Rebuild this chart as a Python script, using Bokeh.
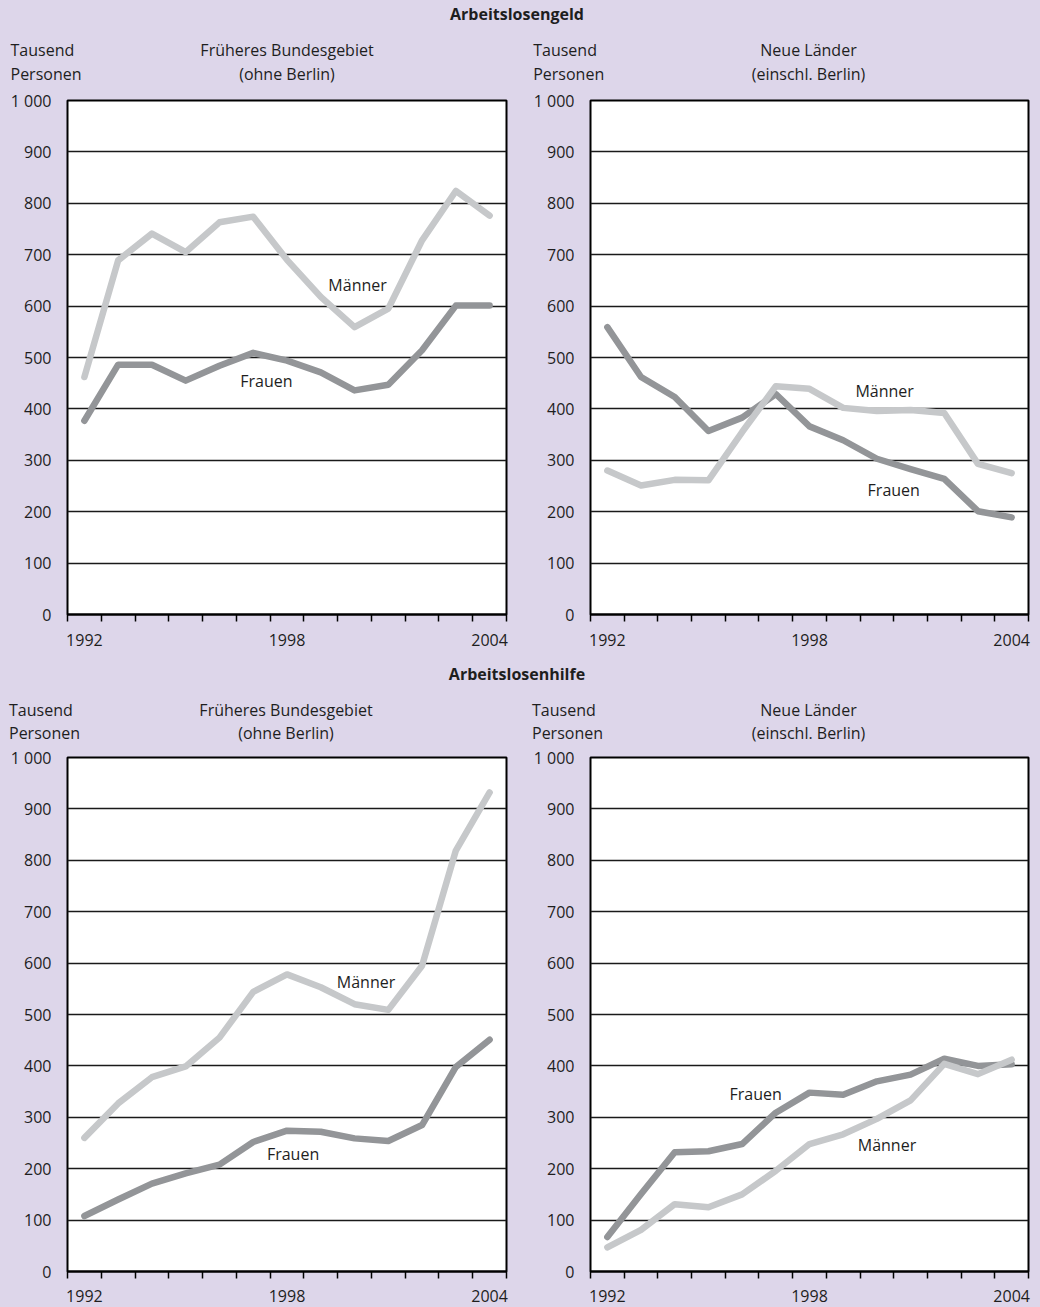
from bokeh.plotting import figure
from bokeh.layouts import column, row
from bokeh.models import FixedTicker, Label, Range1d
from bokeh.embed import file_html
from bokeh.resources import INLINE

# ---------------- data ----------------
years = list(range(1992, 2005))
x_labels = [1992, 1998, 2004]
y_ticks = [0, 100, 200, 300, 400, 500, 600, 700, 800, 900, 1000]
y_tick_labels = {1000: "1 000"}

alg_west_maenner = [462, 689, 741, 705, 763, 774, 690, 618, 559, 595, 728, 824, 776]
alg_west_frauen = [377, 486, 486, 455, 484, 509, 494, 471, 436, 447, 514, 601, 601]
alg_ost_maenner = [280, 251, 262, 261, 355, 444, 439, 402, 396, 398, 392, 293, 275]
alg_ost_frauen = [559, 462, 423, 357, 383, 429, 366, 339, 303, 283, 264, 201, 189]
alh_west_maenner = [260, 327, 378, 399, 455, 544, 578, 553, 520, 509, 595, 819, 932]
alh_west_frauen = [108, 140, 171, 191, 208, 252, 274, 272, 259, 254, 285, 398, 451]
alh_ost_maenner = [47, 81, 131, 125, 150, 196, 248, 267, 297, 333, 404, 384, 412]
alh_ost_frauen = [67, 151, 232, 234, 248, 309, 348, 344, 370, 383, 414, 400, 403]

section_titles = ["Arbeitslosengeld", "Arbeitslosenhilfe"]
unit_lines = ["Tausend", "Personen"]
region_west = ["Früheres Bundesgebiet", "(ohne Berlin)"]
region_ost = ["Neue Länder", "(einschl. Berlin)"]

# ---------------- style ----------------
LAV = "#ddd6ea"
C_M = "#c6c8ca"
C_F = "#939598"
TXT = "#1e1e1e"
FONT = "Open Sans"
FS = "16px"
FRAME_W, FRAME_H = 439, 514


def txt(p, x, y, text, align="left", bold=False):
    p.add_layout(Label(x=x, y=y, x_units="screen", y_units="screen", text=text,
                       text_font=FONT, text_font_size=FS,
                       text_font_style="bold" if bold else "normal",
                       text_color=TXT, text_align=align, text_baseline="alphabetic"))


def header_fig(height, title, title_y, line_y, unit_x, region_x):
    p = figure(width=1040, height=height, x_range=Range1d(0, 1), y_range=Range1d(0, 1),
               x_axis_type=None, y_axis_type=None, output_backend="svg",
               toolbar_location=None, min_border=0)
    p.outline_line_color = None
    p.background_fill_color = LAV
    p.border_fill_color = LAV
    p.grid.visible = False
    txt(p, 516.5, title_y, title, align="center", bold=True)
    for ux in unit_x:
        for i, line in enumerate(unit_lines):
            txt(p, ux, line_y[i], line)
    for rx, region in zip(region_x, [region_west, region_ost]):
        for i, line in enumerate(region):
            txt(p, rx, line_y[i], line, align="center")
    return p


def panel(width, border_left, border_right, border_bottom, maenner, frauen,
          label_pos, x_standoff):
    border_top = 12
    height = border_top + FRAME_H + border_bottom
    p = figure(width=width, height=height, x_range=Range1d(1991.5, 2004.5),
               y_range=Range1d(0, 1000), output_backend="svg", toolbar_location=None,
               min_border_left=border_left, min_border_right=border_right,
               min_border_top=border_top, min_border_bottom=border_bottom)
    p.background_fill_color = "white"
    p.border_fill_color = LAV
    p.outline_line_color = "black"
    p.outline_line_width = 2

    # lines
    p.line(years, frauen, line_color=C_F, line_width=6.5, line_cap="round", line_join="round")
    p.line(years, maenner, line_color=C_M, line_width=6.5, line_cap="round", line_join="round")

    # x axis
    xa = p.xaxis[0]
    xa.ticker = FixedTicker(ticks=x_labels, minor_ticks=[y - 0.5 for y in years] + [years[-1] + 0.5])
    xa.major_tick_line_color = None
    xa.major_tick_in = 0
    xa.major_tick_out = 0
    xa.minor_tick_line_color = "black"
    xa.minor_tick_line_width = 1.5
    xa.minor_tick_in = 0
    xa.minor_tick_out = 7
    xa.axis_line_color = "black"
    xa.axis_line_width = 2
    xa.major_label_standoff = x_standoff
    xa.major_label_text_font = FONT
    xa.major_label_text_font_size = FS
    xa.major_label_text_color = TXT

    # y axis
    ya = p.yaxis[0]
    ya.ticker = FixedTicker(ticks=y_ticks)
    ya.major_label_overrides = y_tick_labels
    ya.major_tick_line_color = None
    ya.major_tick_in = 0
    ya.major_tick_out = 0
    ya.minor_tick_line_color = None
    ya.axis_line_color = None
    ya.major_label_standoff = 16
    ya.major_label_text_font = FONT
    ya.major_label_text_font_size = FS
    ya.major_label_text_color = TXT

    p.xgrid.visible = False
    p.ygrid.ticker = FixedTicker(ticks=y_ticks)
    p.ygrid.grid_line_color = "#1a1a1a"
    p.ygrid.grid_line_width = 1.3

    # series labels
    for name, (lx, ly) in label_pos.items():
        p.add_layout(Label(x=lx, y=ly, text=name, text_font=FONT, text_font_size=FS,
                           text_color=TXT, text_align="center", text_baseline="alphabetic"))
    return p


h1 = header_fig(88, section_titles[0], 74.7, (38.3, 14.3), (10, 532.7), (286.5, 808))
p1 = panel(530, 67, 24, 46, alg_west_maenner, alg_west_frauen,
           {"Männer": (2000.09, 641), "Frauen": (1997.39, 454)}, 12)
p2 = panel(510, 59, 12, 46, alg_ost_maenner, alg_ost_frauen,
           {"Männer": (2000.23, 434), "Frauen": (2000.5, 242)}, 12)
h2 = header_fig(85, section_titles[1], 72, (36, 12.5), (8.5, 531.5), (285.5, 808))
p3 = panel(530, 67, 24, 36, alh_west_maenner, alh_west_frauen,
           {"Männer": (2000.34, 564), "Frauen": (1998.18, 229)}, 11)
p4 = panel(510, 59, 12, 36, alh_ost_maenner, alh_ost_frauen,
           {"Frauen": (1996.4, 345), "Männer": (2000.3, 247)}, 11)

layout = column(h1, row(p1, p2, spacing=0), h2, row(p3, p4, spacing=0), spacing=0)

html = file_html(layout, INLINE, title="Arbeitslosengeld und Arbeitslosenhilfe")
html = html.replace("</head>", "<style>html, body { background-color: %s; }</style></head>" % LAV, 1)
open("out.html", "w").write(html)
